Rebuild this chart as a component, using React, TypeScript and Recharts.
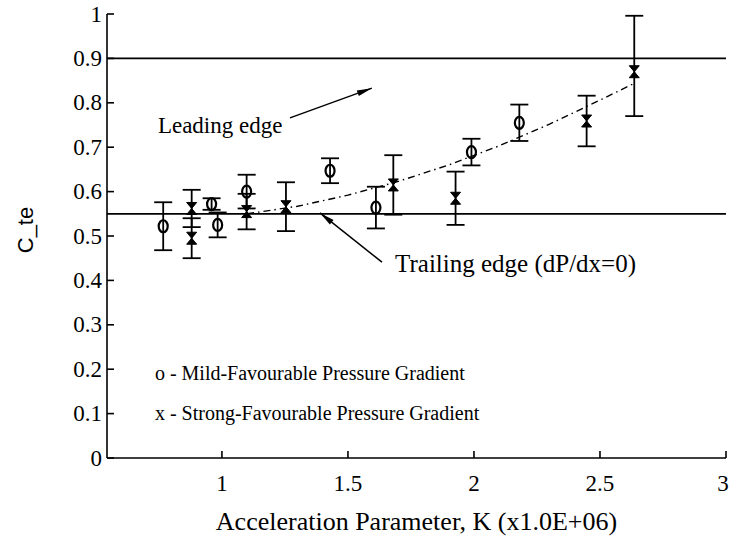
import React from 'react';
import {
  ErrorBar,
  ReferenceDot,
  ReferenceLine,
  Scatter,
  ScatterChart,
  XAxis,
  YAxis,
} from 'recharts';

// Mild-favourable pressure gradient (o)
const mildK = [0.767, 0.959, 0.983, 1.098, 1.429, 1.611, 1.99, 2.18];
const mildC = [0.522, 0.572, 0.525, 0.6, 0.647, 0.564, 0.689, 0.755];
const mildErr = [0.054, 0.013, 0.028, 0.038, 0.028, 0.047, 0.03, 0.041];

// Strong-favourable pressure gradient (x)
const strongK = [0.88, 0.88, 1.098, 1.254, 1.68, 1.927, 2.447, 2.636];
const strongC = [0.562, 0.495, 0.555, 0.566, 0.615, 0.585, 0.759, 0.87];
const strongErrLow = [0.042, 0.045, 0.04, 0.055, 0.067, 0.06, 0.057, 0.1];
const strongErrHigh = [0.042, 0.045, 0.04, 0.055, 0.067, 0.06, 0.057, 0.126];

// dash-dot trend through the strong-gradient points
const fitK = [1.1, 1.3, 1.5, 1.7, 1.9, 2.1, 2.3, 2.5, 2.64];
const fitC = [0.55, 0.567, 0.592, 0.623, 0.66, 0.703, 0.752, 0.806, 0.845];

const LEADING_EDGE = 0.9;
const TRAILING_EDGE = 0.55;

const xTicks = [1, 1.5, 2, 2.5, 3];
const yTicks = [0, 0.1, 0.2, 0.3, 0.4, 0.5, 0.6, 0.7, 0.8, 0.9, 1];
const xDomain: [number, number] = [0.544, 3];

const mild = mildK.map((k, i) => ({ k, c: mildC[i], err: mildErr[i] }));
const strong = strongK.map((k, i) => ({
  k,
  c: strongC[i],
  err: [strongErrLow[i], strongErrHigh[i]],
}));
const fit = fitK.map((k, i) => ({ k, c: fitC[i] }));

const serif = 'Liberation Serif';
const axisLine = { stroke: '#000', strokeWidth: 1.6 };
const tickLine = { stroke: '#000', strokeWidth: 1.6 };

// keep the last label ("3") inside the canvas
const XTick = (p: any) => (
  <text
    x={Math.min(p.x, 723)}
    y={p.y}
    dy={15}
    textAnchor="middle"
    style={{ fontFamily: serif, fontSize: 23 }}
    fill="#000"
  >
    {p.payload.value}
  </text>
);

const YTick = (p: any) => (
  <text
    x={p.x}
    y={p.y}
    textAnchor="end"
    dominantBaseline="central"
    style={{ fontFamily: serif, fontSize: 23 }}
    fill="#000"
  >
    {p.payload.value}
  </text>
);

const CircleMark = (p: any) => (
  <ellipse cx={p.cx} cy={p.cy} rx={4.5} ry={6} fill="none" stroke="#000" strokeWidth={2.2} />
);

const CrossMark = (p: any) => {
  const { cx, cy } = p;
  return (
    <path
      d={`M${cx - 5},${cy - 6} L${cx + 5},${cy - 6} L${cx},${cy} Z M${cx - 5},${cy + 6} L${cx + 5},${cy + 6} L${cx},${cy} Z`}
      fill="#000"
      stroke="#000"
      strokeWidth={1}
    />
  );
};

const NoMark = () => null;

function Arrow(p: any) {
  const { x1, y1, x2, y2 } = p;
  // arrowhead sits at (x2, y2)
  const ang = Math.atan2(y2 - y1, x2 - x1);
  const len = 15;
  const half = 3;
  const bx = x2 - len * Math.cos(ang);
  const by = y2 - len * Math.sin(ang);
  const nx = -Math.sin(ang) * half;
  const ny = Math.cos(ang) * half;
  return (
    <g>
      <line x1={x1} y1={y1} x2={x2} y2={y2} stroke="#000" strokeWidth={1.5} />
      <polygon points={`${x2},${y2} ${bx + nx},${by + ny} ${bx - nx},${by - ny}`} fill="#000" />
    </g>
  );
}

const annoText = (text: string, size: number) => (p: any) => (
  <text
    x={p.cx}
    y={p.cy}
    style={{ fontFamily: serif, fontSize: size }}
    fill="#000"
    textAnchor="start"
    dominantBaseline="central"
  >
    {text}
  </text>
);

export default function App() {
  return (
    <div style={{ position: 'absolute', left: 0, top: 0, background: '#fff' }}>
      <ScatterChart width={731} height={539} margin={{ top: 14, right: 5, bottom: 0, left: 0 }}>
        <XAxis
          xAxisId="b"
          type="number"
          dataKey="k"
          domain={xDomain}
          ticks={xTicks}
          allowDataOverflow
          height={81}
          tick={XTick}
          tickSize={-7}
          tickMargin={25}
          axisLine={axisLine}
          tickLine={tickLine}
          label={({ viewBox }: any) => (
            <text
              x={viewBox.x + viewBox.width / 2}
              y={viewBox.y + 63}
              textAnchor="middle"
              dominantBaseline="central"
              style={{ fontFamily: serif, fontSize: 26 }}
              fill="#000"
            >
              Acceleration Parameter, K (x1.0E+06)
            </text>
          )}
        />
        <XAxis
          xAxisId="t"
          orientation="top"
          type="number"
          dataKey="k"
          domain={xDomain}
          ticks={xTicks}
          allowDataOverflow
          height={0}
          tickSize={-7}
          tickFormatter={() => ''}
          axisLine={axisLine}
          tickLine={tickLine}
        />
        <YAxis
          yAxisId="l"
          type="number"
          dataKey="c"
          domain={[0, 1]}
          ticks={yTicks}
          allowDataOverflow
          width={107}
          tick={YTick}
          tickSize={-7}
          tickMargin={12}
          axisLine={axisLine}
          tickLine={tickLine}
          label={({ viewBox }: any) => (
            <text
              x={25}
              y={viewBox.y + viewBox.height / 2 - 6}
              transform={`rotate(-90, 25, ${viewBox.y + viewBox.height / 2 - 6})`}
              textAnchor="middle"
              dominantBaseline="central"
              style={{ fontFamily: 'Liberation Sans', fontSize: 22 }}
              fill="#000"
            >
              C_te
            </text>
          )}
        />
        <YAxis
          yAxisId="r"
          orientation="right"
          type="number"
          dataKey="c"
          domain={[0, 1]}
          ticks={yTicks}
          allowDataOverflow
          width={0}
          tickSize={-7}
          tickFormatter={() => ''}
          axisLine={axisLine}
          tickLine={tickLine}
        />

        <ReferenceLine xAxisId="b" yAxisId="l" y={LEADING_EDGE} stroke="#000" strokeWidth={1.7} />
        <ReferenceLine xAxisId="b" yAxisId="l" y={TRAILING_EDGE} stroke="#000" strokeWidth={1.7} />

        <Scatter
          xAxisId="b"
          yAxisId="l"
          data={fit}
          shape={NoMark}
          line={{ stroke: '#000', strokeWidth: 1.4, strokeDasharray: '7 4 1.5 4' }}
          lineType="joint"
          isAnimationActive={false}
        />

        <Scatter xAxisId="b" yAxisId="l" data={mild} shape={CircleMark} isAnimationActive={false}>
          <ErrorBar dataKey="err" direction="y" width={9} stroke="#000" strokeWidth={1.8} />
        </Scatter>
        <Scatter xAxisId="b" yAxisId="l" data={strong} shape={CrossMark} isAnimationActive={false}>
          <ErrorBar dataKey="err" direction="y" width={9} stroke="#000" strokeWidth={1.8} />
        </Scatter>

        {/* annotations */}
        <ReferenceLine
          xAxisId="b"
          yAxisId="l"
          segment={[
            { x: 1.27, y: 0.766 },
            { x: 1.595, y: 0.833 },
          ]}
          shape={Arrow}
        />
        <ReferenceLine
          xAxisId="b"
          yAxisId="l"
          segment={[
            { x: 1.635, y: 0.441 },
            { x: 1.389, y: 0.552 },
          ]}
          shape={Arrow}
        />
        <ReferenceDot xAxisId="b" yAxisId="l" x={0.746} y={0.75} shape={annoText('Leading edge', 23)} />
        <ReferenceDot
          xAxisId="b"
          yAxisId="l"
          x={1.687}
          y={0.439}
          shape={annoText('Trailing edge (dP/dx=0)', 25)}
        />
        <ReferenceDot
          xAxisId="b"
          yAxisId="l"
          x={0.734}
          y={0.191}
          shape={annoText('o - Mild-Favourable Pressure Gradient', 20)}
        />
        <ReferenceDot
          xAxisId="b"
          yAxisId="l"
          x={0.734}
          y={0.101}
          shape={annoText('x - Strong-Favourable Pressure Gradient', 20)}
        />
      </ScatterChart>
    </div>
  );
}
